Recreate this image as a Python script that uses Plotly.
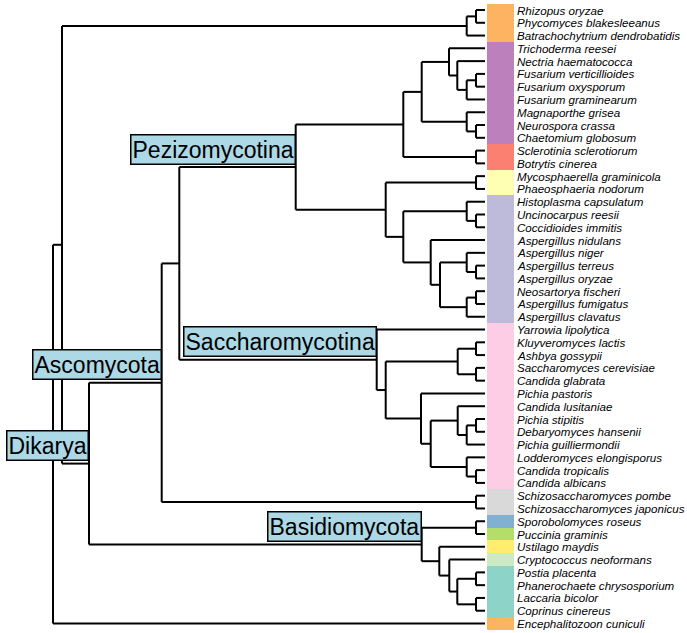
import plotly.graph_objects as go

# ---- tree topology (Newick, internal nodes labelled) ----
newick = (
    "((((Rhizopus_oryzae,Phycomyces_blakesleeanus)Z12,Batrachochytrium_dendrobatidis)Z,"
    "(((((((Trichoderma_reesei,(Nectria_haematococca,((Fusarium_verticillioides,Fusarium_oxysporum)F67,"
    "Fusarium_graminearum)HY3)HY2)HY,(Magnaporthe_grisea,(Neurospora_crassa,Chaetomium_globosum)NC)MG)SO,"
    "(Sclerotinia_sclerotiorum,Botrytis_cinerea)LE)SL,"
    "((Mycosphaerella_graminicola,Phaeosphaeria_nodorum)DO,((Histoplasma_capsulatum,"
    "(Uncinocarpus_reesii,Coccidioides_immitis)ON2)ON,(Aspergillus_nidulans,((Aspergillus_niger,"
    "(Aspergillus_terreus,Aspergillus_oryzae)TO)AN1,((Neosartorya_fischeri,Aspergillus_fumigatus)FC,"
    "Aspergillus_clavatus)AN2)ASPX)ASP)EU)DE)PZ,"
    "(Yarrowia_lipolytica,(((Kluyveromyces_lactis,Ashbya_gossypii)SC1,(Saccharomyces_cerevisiae,"
    "Candida_glabrata)SC2)SC,(Pichia_pastoris,((Candida_lusitaniae,((Pichia_stipitis,Debaryomyces_hansenii)LU3,"
    "Pichia_guilliermondii)LU2)LU,(Lodderomyces_elongisporus,(Candida_tropicalis,Candida_albicans)LO2)LO)CTG)CP)SA2)SA)PS,"
    "(Schizosaccharomyces_pombe,Schizosaccharomyces_japonicus)SP)AS,"
    "((Sporobolomyces_roseus,Puccinia_graminis)PU,(Ustilago_maydis,(Cryptococcus_neoformans,"
    "((Postia_placenta,Phanerochaete_chrysosporium)AG3,(Laccaria_bicolor,Coprinus_cinereus)AG4)AG2)AG)BA2)BA)D)A,"
    "Encephalitozoon_cuniculi)R;"
)

# depth of each internal node from the root
node_names = ["R", "A", "Z", "Z12", "D", "AS", "PS", "PZ", "SL", "SO", "HY", "HY2", "HY3", "F67",
              "MG", "NC", "LE", "DE", "DO", "EU", "ON", "ON2", "ASP", "ASPX", "AN1", "TO", "AN2", "FC",
              "SA", "SA2", "SC", "SC1", "SC2", "CP", "CTG", "LU", "LU2", "LU3", "LO", "LO2", "SP",
              "BA", "PU", "BA2", "AG", "AG2", "AG3", "AG4"]
node_depths = [0, 9, 413.7, 423, 36, 108.7, 126.3, 242.7, 350.3, 368.7, 396, 404.3, 413.7, 423,
               413.7, 423, 423, 332.7, 423, 350.3, 413.7, 423, 377.7, 387, 413.7, 423, 413.7, 423,
               323.7, 332.7, 404.7, 423, 423, 368, 377.7, 404.7, 413.7, 423, 413.7, 423, 423,
               368.7, 423, 386.3, 396.3, 404.3, 423, 423]
tip_depth = 432

# clade labels
clade_nodes = ["PZ", "SA", "AS", "D", "BA"]
clade_labels = ["Pezizomycotina", "Saccharomycotina", "Ascomycota", "Dikarya", "Basidiomycota"]

# colour strip (runs of tips, top to bottom)
strip_counts = [3, 8, 2, 2, 10, 13, 2, 1, 1, 1, 1, 4, 1]
strip_colors = ["#FDB462", "#BC80BD", "#FB8072", "#FFFFB3", "#BEBADA", "#FCCDE5", "#D9D9D9",
                "#80B1D3", "#B3DE69", "#FFED6F", "#CCEBC5", "#8DD3C7", "#FDB462"]


def parse(s):
    pos = 0

    def node():
        nonlocal pos
        children = []
        if s[pos] == "(":
            pos += 1
            while True:
                children.append(node())
                if s[pos] == ",":
                    pos += 1
                    continue
                if s[pos] == ")":
                    pos += 1
                    break
        start = pos
        while pos < len(s) and s[pos] not in ",();":
            pos += 1
        return {"name": s[start:pos].strip(), "children": children}

    return node()


tree = parse(newick)
depth_of = dict(zip(node_names, node_depths))
tips = []


def layout(n):
    if not n["children"]:
        n["y"] = len(tips)
        n["x"] = tip_depth
        tips.append(n["name"].replace("_", " "))
    else:
        for c in n["children"]:
            layout(c)
        n["x"] = depth_of[n["name"]]
        n["y"] = sum(c["y"] for c in n["children"]) / len(n["children"])


layout(tree)

xs, ys = [], []
pos_of = {}


def draw(n):
    pos_of[n["name"]] = (n["x"], n["y"])
    if n["children"]:
        cy = [c["y"] for c in n["children"]]
        xs.extend([n["x"], n["x"], None])
        ys.extend([min(cy), max(cy), None])
        for c in n["children"]:
            xs.extend([n["x"], c["x"], None])
            ys.extend([c["y"], c["y"], None])
            draw(c)


draw(tree)

fig = go.Figure()
fig.add_trace(go.Scatter(x=xs, y=ys, mode="lines", line=dict(color="black", width=2),
                         hoverinfo="skip", showlegend=False))

# colour strip
tip_colors = []
for cnt, col in zip(strip_counts, strip_colors):
    tip_colors += [col] * cnt
strip_x0, strip_w = tip_depth + 2, 27
fig.add_trace(go.Bar(y=list(range(len(tips))), x=[strip_w] * len(tips), base=strip_x0,
                     orientation="h", width=1, marker=dict(color=tip_colors, line=dict(width=0)),
                     hoverinfo="skip", showlegend=False))

annotations = []
for i, name in enumerate(tips):
    annotations.append(dict(x=strip_x0 + strip_w + 1, y=i, text=name, showarrow=False,
                            xanchor="left", yanchor="middle",
                            font=dict(family="Liberation Sans", size=11.6, color="black", style="italic")))

for nd, lab in zip(clade_nodes, clade_labels):
    x, y = pos_of[nd]
    annotations.append(dict(x=x, y=y, text=lab, showarrow=False, xanchor="right", yanchor="bottom",
                            yshift=2.5, bgcolor="#ADD8E6", bordercolor="black", borderwidth=1.5,
                            borderpad=1,
                            font=dict(family="Liberation Sans", size=23, color="black")))

fig.update_layout(
    width=687, height=633, margin=dict(l=0, r=0, t=0, b=0),
    plot_bgcolor="white", paper_bgcolor="white",
    xaxis=dict(range=[-53, 634], visible=False, fixedrange=True),
    yaxis=dict(range=[48.743, -0.782], visible=False, fixedrange=True),
    annotations=annotations, bargap=0,
)
fig.write_html("out.html", config={"displayModeBar": False},
               post_script="document.body.style.margin='0';document.body.style.overflow='hidden';")
